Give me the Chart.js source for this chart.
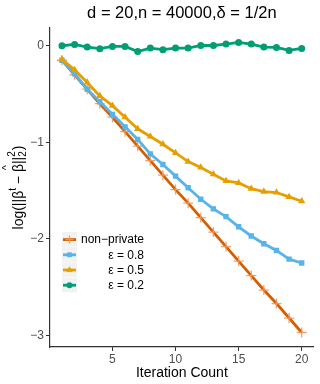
<!DOCTYPE html>
<html><head><meta charset="utf-8">
<script src="https://cdn.jsdelivr.net/npm/chart.js@4"></script>
<style>html,body{margin:0;padding:0;background:#fff}#wrap{width:320px;height:384px;position:relative}</style>
</head><body><div id="wrap"><canvas id="c" width="320" height="384"></canvas></div>
<script>
const iterations = [1,2,3,4,5,6,7,8,9,10,11,12,13,14,15,16,17,18,19,20];
const nonPrivate = [-0.15,-0.30,-0.45,-0.60,-0.74,-0.89,-1.04,-1.19,-1.34,-1.49,-1.63,-1.78,-1.93,-2.08,-2.23,-2.38,-2.53,-2.67,-2.82,-2.97];
const eps08 = [-0.15,-0.29,-0.45,-0.58,-0.71,-0.84,-0.97,-1.12,-1.23,-1.35,-1.47,-1.59,-1.69,-1.77,-1.875,-1.97,-2.05,-2.12,-2.21,-2.25];
const eps05 = [-0.14,-0.25,-0.38,-0.52,-0.62,-0.74,-0.86,-0.94,-1.02,-1.11,-1.20,-1.26,-1.33,-1.40,-1.42,-1.48,-1.51,-1.52,-1.565,-1.61];
const eps02 = [0.0,0.014,-0.014,-0.03,-0.007,-0.007,-0.06,-0.024,-0.04,-0.024,-0.024,0.003,0.003,0.017,0.034,0.017,-0.014,-0.017,-0.048,-0.028];
const seriesNames = ['non\u2212private','\u03b5 = 0.8','\u03b5 = 0.5','\u03b5 = 0.2'];
const xTicks = [5,10,15,20];
const yTicks = [0,-1,-2,-3];

const colors = ['#D55E00','#56B4E9','#E69F00','#009E73'];
const styles = ['cross','rect','triangle','circle'];
const radii = [5,3.8,4.2,3.5];
const allData = [nonPrivate, eps08, eps05, eps02];
const FONT = '"Liberation Sans", Arial, sans-serif';

function mk(i){
  return {
    label: seriesNames[i],
    data: iterations.map((x,k)=>({x:x,y:allData[i][k]})),
    borderColor: colors[i], backgroundColor: colors[i],
    borderWidth: 2.8, pointStyle: styles[i], pointRadius: radii[i],
    pointBorderWidth: i===0?1.3:0, pointBorderColor: i===0?'rgba(240,150,90,0.9)':colors[i],
    pointHoverRadius: radii[i], tension: 0, order: 4-i
  };
}

const decor = {
  id:'decor',
  afterDraw(chart){
    const ctx = chart.ctx;
    const ca = chart.chartArea;
    const cx = (ca.left+ca.right)/2;
    ctx.save();
    ctx.fillStyle = '#000';
    ctx.textBaseline = 'middle';
    ctx.textAlign = 'left';
    // title
    ctx.font = '16.5px ' + FONT;
    const title = 'd = 20,n = 40000,\u03b4 = 1/2n';
    const tw = ctx.measureText(title).width;
    ctx.fillText(title, cx - tw/2, 13);
    // x title
    ctx.font = '14px ' + FONT;
    const xt = 'Iteration Count';
    const xw = ctx.measureText(xt).width;
    ctx.fillText(xt, cx - xw/2, 373);
    // y title (rotated, composed)
    ctx.translate(18, (ca.top+ca.bottom)/2);
    ctx.rotate(-Math.PI/2);
    const big = '14px ' + FONT;
    const small = '10px ' + FONT;
    const parts = [
      {t:'log(||\u03b2', f:big, dy:0},
      {t:'t', f:small, dy:-6},
      {t:' \u2212 ', f:big, dy:0},
      {t:'\u03b2', f:big, dy:0, hat:true},
      {t:'||', f:big, dy:0},
      {t:'2', f:small, dy:4, stackSup:'2'},
      {t:')', f:big, dy:0}
    ];
    let total = 0;
    parts.forEach(p=>{ctx.font=p.f; p.w=ctx.measureText(p.t).width+(p.stackSup?1:0); total+=p.w;});
    let x = -total/2;
    parts.forEach(p=>{
      ctx.font=p.f;
      ctx.fillText(p.t, x, p.dy+1);
      if(p.hat){ ctx.font=small; ctx.fillText('^', x+2, -11); }
      if(p.stackSup){ ctx.font=small; ctx.fillText(p.stackSup, x, -6); }
      x+=p.w;
    });
    ctx.restore();
    // legend
    ctx.save();
    const kx = 62, kw = 15, ky0 = 232, kh = 15.2;
    for(let i=0;i<4;i++){
      const y = ky0 + i*kh;
      ctx.fillStyle = '#f2f2f2';
      ctx.fillRect(kx, y, kw, kh-0.5);
      const cy = y + kh/2;
      ctx.strokeStyle = colors[i]; ctx.lineWidth = 2.8;
      ctx.beginPath(); ctx.moveTo(kx+1, cy); ctx.lineTo(kx+kw-1, cy); ctx.stroke();
      const r = radii[i]*0.8;
      if(i===0){ ctx.strokeStyle='rgba(240,150,90,0.9)'; ctx.lineWidth=1.3; Chart.helpers.drawPoint(ctx,{pointStyle:'cross',radius:r,borderWidth:1.3,rotation:0},kx+kw/2,cy);} 
      else { ctx.fillStyle=colors[i]; ctx.strokeStyle=colors[i]; ctx.lineWidth=0.5; Chart.helpers.drawPoint(ctx,{pointStyle:styles[i],radius:r,borderWidth:0.5,rotation:0},kx+kw/2,cy); }
      ctx.fillStyle = '#000';
      ctx.font = '12px ' + FONT;
      ctx.textAlign = 'right'; ctx.textBaseline = 'middle';
      ctx.fillText(seriesNames[i], 144, cy+0.5);
    }
    ctx.restore();
  }
};

new Chart(document.getElementById('c'), {
  type: 'line',
  data: { datasets: [mk(0), mk(1), mk(2), mk(3)] },
  options: {
    responsive: false, animation: false, devicePixelRatio: 1,
    layout: { padding: { top: 28, right: 5, left: 0, bottom: 0 } },
    plugins: { legend: { display: false }, tooltip: { enabled: false } },
    scales: {
      x: {
        type: 'linear', min: 0.05, max: 20.95,
        afterFit(s){ s.height = 37; },
        afterBuildTicks(s){ s.ticks = xTicks.map(v=>({value:v})); },
        ticks: { color: '#4d4d4d', font: { size: 12, family: FONT }, padding: 1, maxRotation: 0 },
        grid: { drawOnChartArea: false, tickLength: 4, color: '#333', lineWidth: 1 },
        border: { color: '#333', width: 1.2 }
      },
      y: {
        type: 'linear', min: -3.12, max: 0.184,
        afterFit(s){ s.width = 50; },
        afterBuildTicks(s){ s.ticks = yTicks.map(v=>({value:v})); },
        ticks: { color: '#4d4d4d', font: { size: 12, family: FONT }, padding: 2,
          callback: v => String(v).replace('-', '\u2212') },
        grid: { drawOnChartArea: false, tickLength: 4, color: '#333', lineWidth: 1 },
        border: { color: '#333', width: 1.2 }
      }
    }
  },
  plugins: [decor]
});
</script></body></html>
